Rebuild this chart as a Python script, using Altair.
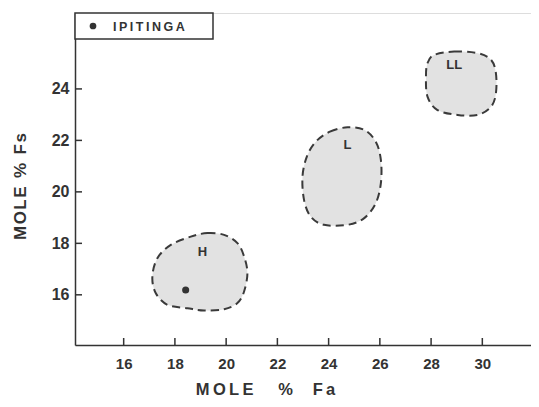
import altair as alt
import pandas as pd

# Outline of each chondrite field (MOLE % Fa, MOLE % Fs)
h_fa = [18.62, 19.27, 19.92, 20.44, 20.70, 20.83, 20.70, 20.44, 19.92, 19.14, 18.49, 17.71, 17.25, 17.12, 17.32, 17.84]
h_fs = [18.26, 18.40, 18.33, 18.01, 17.49, 16.84, 16.13, 15.68, 15.44, 15.39, 15.48, 15.61, 16.07, 16.71, 17.43, 17.94]
l_fa = [23.50, 24.05, 24.74, 25.39, 25.84, 26.04, 26.04, 25.84, 25.39, 24.74, 23.82, 23.30, 23.04, 22.98, 23.15]
l_fs = [21.95, 22.34, 22.51, 22.41, 21.95, 21.24, 20.34, 19.56, 18.98, 18.72, 18.72, 19.04, 19.69, 20.59, 21.37]
ll_fa = [28.12, 28.90, 29.82, 30.34, 30.53, 30.53, 30.34, 29.82, 29.04, 28.25, 27.86, 27.80, 27.86]
ll_fs = [25.32, 25.45, 25.39, 25.13, 24.61, 23.83, 23.31, 22.99, 22.99, 23.18, 23.70, 24.48, 25.00]

group_names = ["H", "L", "LL"]
label_fa = [19.07, 24.74, 28.90]
label_fs = [17.68, 21.83, 24.93]

ipitinga_fa = [18.42]
ipitinga_fs = [16.19]
legend_label = "I\u2009P\u2009I\u2009T\u2009I\u2009N\u2009G\u2009A"

x_ticks = [16, 18, 20, 22, 24, 26, 28, 30]
y_ticks = [16, 18, 20, 22, 24]

W, H = 456, 332
INK = "#333333"
FONT = "Liberation Sans"

rows = []
for name, xs, ys in zip(group_names, [h_fa, l_fa, ll_fa], [h_fs, l_fs, ll_fs]):
    for i, (a, b) in enumerate(zip(xs, ys)):
        rows.append({"group": name, "i": i, "fa": a, "fs": b})
blobs = pd.DataFrame(rows)
labels = pd.DataFrame({"group": group_names, "fa": label_fa, "fs": label_fs})
pts = pd.DataFrame({"fa": ipitinga_fa, "fs": ipitinga_fs})
xt = pd.DataFrame({"v": x_ticks})
yt = pd.DataFrame({"v": y_ticks})

xscale = alt.Scale(domain=[14.1, 31.9], nice=False, zero=False)
yscale = alt.Scale(domain=[14.05, 26.95], nice=False, zero=False)

xaxis = alt.Axis(values=x_ticks, ticks=False, tickSize=0, grid=False, domainColor=INK, domainWidth=1.5,
                 labelFont=FONT, labelFontSize=15, labelFontWeight="bold", labelColor=INK, labelPadding=11,
                 title="M\u2009O\u2009L\u2009E\u2003\u2002%\u2003\u2009F\u2009a", titleFont=FONT, titleFontSize=16.5,
                 titleFontWeight="bold", titleColor=INK, titleX=190, titleY=49, titleBaseline="alphabetic")
yaxis = alt.Axis(values=y_ticks, ticks=False, tickSize=0, grid=False, domainColor=INK, domainWidth=1.5,
                 labelFont=FONT, labelFontSize=16, labelFontWeight="bold", labelColor=INK, labelPadding=6,
                 title="M\u200aO\u200aL\u200aE\u2002%\u2002F\u200as", titleFont=FONT, titleFontSize=17,
                 titleFontWeight="bold", titleColor=INK, titleX=-50, titleY=173, titleBaseline="alphabetic")

base_x = alt.X("fa:Q", scale=xscale, axis=xaxis)
base_y = alt.Y("fs:Q", scale=yscale, axis=yaxis)

blob_layer = alt.Chart(blobs).mark_line(
    interpolate="cardinal-closed", fill="#e2e2e2", stroke="#3a3a3a",
    strokeDash=[8, 5], strokeWidth=2
).encode(x=base_x, y=base_y, detail="group:N", order="i:Q")

label_layer = alt.Chart(labels).mark_text(
    font=FONT, fontSize=13, fontWeight="bold", color=INK
).encode(x=alt.X("fa:Q", scale=xscale), y=alt.Y("fs:Q", scale=yscale), text="group:N")

pt_layer = alt.Chart(pts).mark_circle(size=50, color=INK, opacity=1).encode(
    x=alt.X("fa:Q", scale=xscale), y=alt.Y("fs:Q", scale=yscale))

xtick_layer = alt.Chart(xt).mark_rule(color=INK, strokeWidth=1.5).encode(
    x=alt.X("v:Q", scale=xscale), y=alt.value(H - 7), y2=alt.value(H))
ytick_layer = alt.Chart(yt).mark_rule(color=INK, strokeWidth=1.5).encode(
    y=alt.Y("v:Q", scale=yscale), x=alt.value(0), x2=alt.value(7))

legend_box = alt.Chart(pd.DataFrame({"k": [0]})).mark_rect(
    fill="white", stroke=INK, strokeWidth=1.5
).encode(x=alt.value(0), x2=alt.value(138), y=alt.value(0), y2=alt.value(26))
legend_dot = alt.Chart(pd.DataFrame({"k": [0]})).mark_circle(size=45, color=INK, opacity=1).encode(
    x=alt.value(18), y=alt.value(13))
legend_text = alt.Chart(pd.DataFrame({"t": [legend_label]})).mark_text(
    font=FONT, fontSize=12.5, fontWeight="bold", color=INK, align="left", baseline="middle"
).encode(x=alt.value(38), y=alt.value(13.5), text="t:N")

chart = alt.layer(
    blob_layer, label_layer, pt_layer, xtick_layer, ytick_layer, legend_box, legend_dot, legend_text
).properties(
    width=W, height=H,
    autosize=alt.AutoSizeParams(type="none"),
    padding={"left": 67, "top": 5, "right": 0, "bottom": 54},
).configure_view(stroke=INK, strokeWidth=1.5).configure(background="white")

chart.save("out.html", embed_options={"renderer": "svg", "actions": False})
